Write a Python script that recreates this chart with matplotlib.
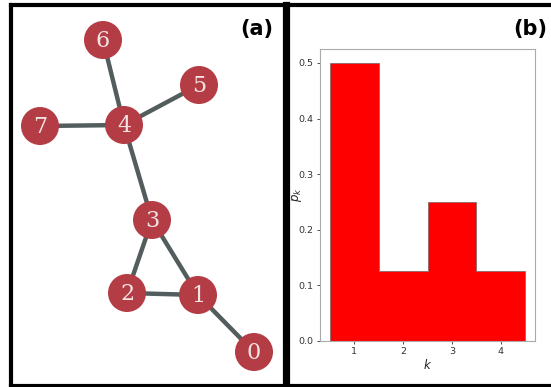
import matplotlib
matplotlib.use("Agg")
import matplotlib.pyplot as plt
from matplotlib.lines import Line2D
from matplotlib.patches import Circle

# ---- data ----
node_ids = [0, 1, 2, 3, 4, 5, 6, 7]
# layout positions of nodes (x, y) in panel-(a) layout units
node_x = [254, 198, 127, 152, 124, 199, 103, 40]
node_y = [352, 295, 293, 220, 125, 85, 40, 126]
edges = [(6, 4), (5, 4), (7, 4), (4, 3), (3, 2), (3, 1), (2, 1), (1, 0)]

k_values = [1, 2, 3, 4]
p_k = [0.5, 0.125, 0.25, 0.125]

W, H = 551, 387
fig = plt.figure(figsize=(W / 100, H / 100), dpi=100)
fig.patch.set_facecolor("white")

# ---- panel (a): network ----
axa = fig.add_axes([0, 0, 1, 1])
axa.set_xlim(0, W)
axa.set_ylim(H, 0)
axa.axis("off")

node_color = "#b43c44"
edge_color = "#545d5d"
r = 19
for a, b in edges:
    axa.plot([node_x[a], node_x[b]], [node_y[a], node_y[b]],
             color=edge_color, lw=3.2, solid_capstyle="butt", zorder=1)
for i, nid in enumerate(node_ids):
    axa.add_patch(Circle((node_x[i], node_y[i]), r, facecolor=node_color,
                         edgecolor="none", zorder=2))
    axa.text(node_x[i], node_y[i] + 1, str(nid), color="#f3e3e3",
             fontsize=16, family="DejaVu Serif", ha="center", va="center",
             zorder=3)

# ---- panel (b): degree distribution ----
axb = fig.add_axes([320 / W, 1 - 341 / H, (535 - 320) / W, (341 - 49) / H])
bin_edges = [k - 0.5 for k in k_values] + [k_values[-1] + 0.5]
axb.stairs(p_k, bin_edges, fill=True, facecolor="#ff0000",
           edgecolor="#8a6a6a", linewidth=0.6, baseline=0)
axb.set_xlim(bin_edges[0] - 0.2, bin_edges[-1] + 0.2)
axb.set_ylim(0, max(p_k) * 1.05)
axb.set_xticks(k_values)
axb.set_yticks([0.0, 0.1, 0.2, 0.3, 0.4, 0.5])
axb.tick_params(labelsize=6.8, length=2.5, width=0.6, colors="#333333",
                pad=2)
for s in axb.spines.values():
    s.set_color("#aaaaaa")
    s.set_linewidth(0.8)
axb.set_xlabel("$k$", fontsize=8.5, color="#222222")
axb.set_ylabel("$p_k$", fontsize=8.5, color="#222222")
axb.xaxis.set_label_coords(0.5, -0.058)
axb.yaxis.set_label_coords(-0.075, 0.5)

# ---- panel borders ----
def fline(xs, ys, lw):
    fig.add_artist(Line2D([x / W for x in xs], [1 - y / H for y in ys],
                          color="black", lw=lw, transform=fig.transFigure,
                          solid_capstyle="projecting"))

bw = 3.0  # points (~4 px)
fline([11, 11], [5, 385.5], bw)
fline([11, 560], [5, 5], bw)
fline([11, 560], [385.5, 385.5], bw)
fline([285.5, 285.5], [5, 385.5], 5.2)

fig.text(273 / W, 1 - 29 / H, "(a)", fontsize=15, fontweight="bold",
         ha="right", va="center", family="DejaVu Sans")
fig.text(513 / W, 1 - 29 / H, "(b)", fontsize=15, fontweight="bold",
         ha="left", va="center", family="DejaVu Sans")

fig.savefig("out.png", dpi=100, facecolor="white")
